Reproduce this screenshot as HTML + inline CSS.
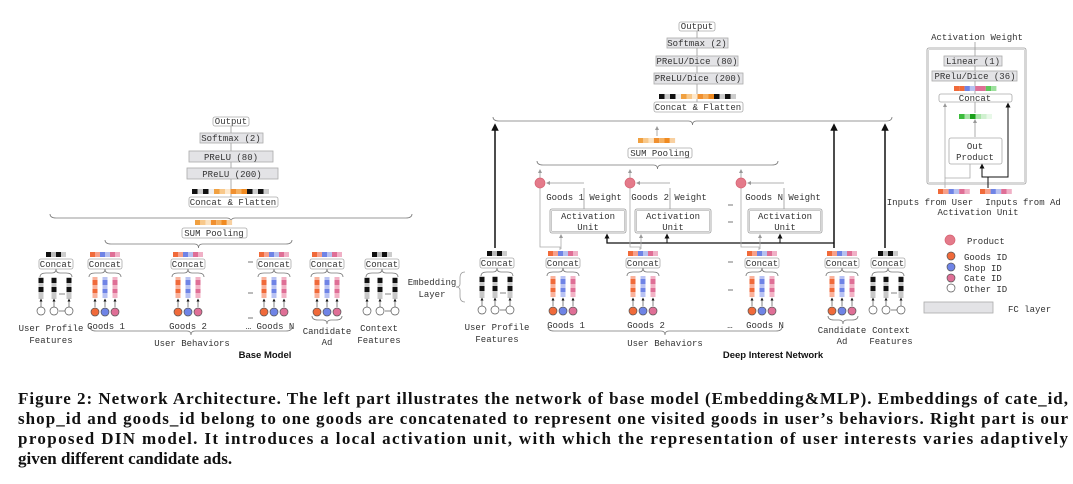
<!DOCTYPE html>
<html><head><meta charset="utf-8"><style>
html,body{margin:0;padding:0;background:#fff;width:1073px;height:484px;overflow:hidden}
svg{display:block}
.m{font-family:"Liberation Mono","DejaVu Sans Mono",monospace;font-size:9px;fill:#333}
.b{font-family:"Liberation Sans",sans-serif;font-size:9.5px;font-weight:bold;fill:#111}
.cap{font-family:"Liberation Serif",serif;font-size:17px;font-weight:bold;fill:#111}
</style></head><body>
<svg id="s" width="1073" height="484" viewBox="0 0 1073 484" xmlns="http://www.w3.org/2000/svg">
<defs>
<marker id="ag" markerWidth="5" markerHeight="5" refX="2.5" refY="2.5" orient="auto"><path d="M0,0L5,2.5L0,5z" fill="#999"/></marker>
<marker id="ak" markerWidth="5" markerHeight="5" refX="2.5" refY="2.5" orient="auto"><path d="M0,0L5,2.5L0,5z" fill="#111"/></marker>
</defs>
<g id="g"></g>
<text class="m" x="231" y="124" text-anchor="middle">Output</text>
<text class="m" x="231" y="141" text-anchor="middle">Softmax (2)</text>
<text class="m" x="231" y="160" text-anchor="middle">PReLU (80)</text>
<text class="m" x="232" y="177" text-anchor="middle">PReLU (200)</text>
<text class="m" x="233" y="205" text-anchor="middle">Concat &amp; Flatten</text>
<text class="m" x="214" y="236" text-anchor="middle">SUM Pooling</text>
<text class="m" x="56" y="267" text-anchor="middle">Concat</text>
<text class="m" x="105" y="267" text-anchor="middle">Concat</text>
<text class="m" x="188" y="267" text-anchor="middle">Concat</text>
<text class="m" x="274" y="267" text-anchor="middle">Concat</text>
<text class="m" x="327" y="267" text-anchor="middle">Concat</text>
<text class="m" x="382" y="267" text-anchor="middle">Concat</text>
<text class="m" x="51" y="331" text-anchor="middle">User Profile</text>
<text class="m" x="51" y="343" text-anchor="middle">Features</text>
<text class="m" x="106" y="329" text-anchor="middle">Goods 1</text>
<text class="m" x="188" y="329" text-anchor="middle">Goods 2</text>
<text class="m" x="270" y="329" text-anchor="middle">… Goods N</text>
<text class="m" x="327" y="334" text-anchor="middle">Candidate</text>
<text class="m" x="327" y="345" text-anchor="middle">Ad</text>
<text class="m" x="379" y="331" text-anchor="middle">Context</text>
<text class="m" x="379" y="343" text-anchor="middle">Features</text>
<text class="m" x="192" y="346" text-anchor="middle">User Behaviors</text>
<text class="b" x="265" y="358" text-anchor="middle">Base Model</text>
<text class="m" x="432" y="285" text-anchor="middle">Embedding</text>
<text class="m" x="432" y="297" text-anchor="middle">Layer</text>
<text class="m" x="697" y="29" text-anchor="middle">Output</text>
<text class="m" x="697" y="46" text-anchor="middle">Softmax (2)</text>
<text class="m" x="697" y="64" text-anchor="middle">PReLU/Dice (80)</text>
<text class="m" x="698" y="81" text-anchor="middle">PReLU/Dice (200)</text>
<text class="m" x="698" y="110" text-anchor="middle">Concat &amp; Flatten</text>
<text class="m" x="660" y="156" text-anchor="middle">SUM Pooling</text>
<text class="m" x="584" y="200" text-anchor="middle">Goods 1 Weight</text>
<text class="m" x="669" y="200" text-anchor="middle">Goods 2 Weight</text>
<text class="m" x="783" y="200" text-anchor="middle">Goods N Weight</text>
<text class="m" x="588" y="219" text-anchor="middle">Activation</text>
<text class="m" x="588" y="230" text-anchor="middle">Unit</text>
<text class="m" x="673" y="219" text-anchor="middle">Activation</text>
<text class="m" x="673" y="230" text-anchor="middle">Unit</text>
<text class="m" x="785" y="219" text-anchor="middle">Activation</text>
<text class="m" x="785" y="230" text-anchor="middle">Unit</text>
<text class="m" x="497" y="266" text-anchor="middle">Concat</text>
<text class="m" x="563" y="266" text-anchor="middle">Concat</text>
<text class="m" x="643" y="266" text-anchor="middle">Concat</text>
<text class="m" x="762" y="266" text-anchor="middle">Concat</text>
<text class="m" x="842" y="266" text-anchor="middle">Concat</text>
<text class="m" x="888" y="266" text-anchor="middle">Concat</text>
<text class="m" x="497" y="330" text-anchor="middle">User Profile</text>
<text class="m" x="497" y="342" text-anchor="middle">Features</text>
<text class="m" x="566" y="328" text-anchor="middle">Goods 1</text>
<text class="m" x="646" y="328" text-anchor="middle">Goods 2</text>
<text class="m" x="730" y="328" text-anchor="middle">…</text>
<text class="m" x="765" y="328" text-anchor="middle">Goods N</text>
<text class="m" x="842" y="333" text-anchor="middle">Candidate</text>
<text class="m" x="842" y="344" text-anchor="middle">Ad</text>
<text class="m" x="891" y="333" text-anchor="middle">Context</text>
<text class="m" x="891" y="344" text-anchor="middle">Features</text>
<text class="m" x="665" y="346" text-anchor="middle">User Behaviors</text>
<text class="b" x="773" y="358" text-anchor="middle">Deep Interest Network</text>
<text class="m" x="977" y="40" text-anchor="middle">Activation Weight</text>
<text class="m" x="973" y="64" text-anchor="middle">Linear (1)</text>
<text class="m" x="975" y="79" text-anchor="middle">PRelu/Dice (36)</text>
<text class="m" x="975" y="101" text-anchor="middle">Concat</text>
<text class="m" x="975" y="149" text-anchor="middle">Out</text>
<text class="m" x="975" y="160" text-anchor="middle">Product</text>
<text class="m" x="930" y="205" text-anchor="middle">Inputs from User</text>
<text class="m" x="1023" y="205" text-anchor="middle">Inputs from Ad</text>
<text class="m" x="978" y="215" text-anchor="middle">Activation Unit</text>
<text class="m" x="967" y="244">Product</text>
<text class="m" x="964" y="260">Goods ID</text>
<text class="m" x="964" y="271">Shop ID</text>
<text class="m" x="964" y="281">Cate ID</text>
<text class="m" x="964" y="292">Other ID</text>
<text class="m" x="1008" y="312">FC layer</text>
<text class="cap" x="18" y="404" textLength="1050" lengthAdjust="spacing">Figure 2: Network Architecture. The left part illustrates the network of base model (Embedding&amp;MLP). Embeddings of cate_id,</text>
<text class="cap" x="18" y="424" textLength="1050" lengthAdjust="spacing">shop_id and goods_id belong to one goods are concatenated to represent one visited goods in user’s behaviors. Right part is our</text>
<text class="cap" x="18" y="444" textLength="1050" lengthAdjust="spacing">proposed DIN model. It introduces a local activation unit, with which the representation of user interests varies adaptively</text>
<text class="cap" x="18" y="464">given different candidate ads.</text>
</svg>
<script>
var G=document.getElementById('g'),NS='http://www.w3.org/2000/svg';
function el(t,a){var e=document.createElementNS(NS,t);for(var k in a)e.setAttribute(k,a[k]);G.appendChild(e);return e;}
function R(x,y,w,h,f,s,rx){el('rect',{x:x,y:y,width:w,height:h,fill:f||'none',stroke:s||'none','stroke-width':0.8,rx:rx||0});}
function L(x1,y1,x2,y2,c,w,m){var a={x1:x1,y1:y1,x2:x2,y2:y2,stroke:c||'#999','stroke-width':w||0.8};if(m)a['marker-end']='url(#'+m+')';el('line',a);}
function P(d,c,w,m){var a={d:d,stroke:c||'#999','stroke-width':w||0.8,fill:'none'};if(m)a['marker-end']='url(#'+m+')';el('path',a);}
function C(x,y,r,f,s){el('circle',{cx:x,cy:y,r:r,fill:f,stroke:s||'#555','stroke-width':0.7});}
function fc(x1,y1,x2,y2){R(x1,y1,x2-x1,y2-y1,'#e3e3e6','#aaa');}
function lb(x1,y1,x2,y2){R(x1,y1,x2-x1,y2-y1,'#fff','#aaa',2);}
function brace(x1,x2,y,down){var m=(x1+x2)/2,d=down?-4:4;P('M'+x1+','+(y+d)+' Q'+x1+','+y+' '+(x1+6)+','+y+' L'+(m-4)+','+y+' Q'+m+','+y+' '+m+','+(y-d)+' Q'+m+','+y+' '+(m+4)+','+y+' L'+(x2-6)+','+y+' Q'+x2+','+y+' '+x2+','+(y+d),'#777',0.8);}
function bar(x,y,cols,w,h){for(var i=0;i<cols.length;i++)R(x+i*w,y,w,h,cols[i]);}
var OR=['#f0a040','#f8c88a','#fbe3c2','#f09030','#f5b060','#f08a20','#f8d0a0'];
var GC=['#f06a3a','#f7a08a','#6f84e6','#b7c1f0','#df6f96','#f0b0c6'];
var BK=['#111','#bbb','#111','#ccc'];
function goodsCol(cx,yb){
 bar(cx-15,yb,GC,5,5);
 lb(cx-17,yb+7,cx+17,yb+17);
 brace(cx-16,cx+16,yb+21,false);
 var cs=['#f06a3a','#6f84e6','#df6f96'],ls=['#f9b29c','#b9c3f3','#f2b3c6'];
 for(var i=0;i<3;i++){var x=cx-10+i*10;R(x-2.5,yb+25,5,21,ls[i]);R(x-2.5,yb+28,5,5,cs[i]);R(x-2.5,yb+37,5,4,cs[i]);
  L(x,yb+55,x,yb+48,'#333',0.6,'ak');C(x,yb+60,4,cs[i]);}
}
function otherCol(cx,yb){
 bar(cx-10,yb,BK,5,5);
 lb(cx-17,yb+7,cx+17,yb+17);
 brace(cx-16,cx+16,yb+21,false);
 var xs=[cx-15,cx-2,cx+13];
 for(var i=0;i<3;i++){var x=xs[i];R(x-2.5,yb+25,5,22,'#c8c8c8');R(x-2.5,yb+26,5,5,'#111');R(x-2.5,yb+35,5,5,'#111');
  L(x,yb+55,x,yb+48,'#333',0.6,'ak');C(x,yb+59,4,'#fff');}
 L(cx+3,yb+42,cx+9,yb+42,'#333',0.6);L(cx+3,yb+59,cx+9,yb+59,'#333',0.6);
}
L(231,125,231,198,'#999');
lb(213,117,249,126);fc(200,133,263,143);fc(189,151,273,162);fc(187,168,278,179);
bar(192,189,['#111','#ccc','#111','#eee','#f0a040','#f8c88a','#fde8cc','#f09030','#f5b060','#f08a20','#111','#ccc','#111','#ccc'],5.5,5);
lb(189,197,278,207);
brace(50,412,218,true);
bar(195,220,OR,5.3,5);
lb(182,228,247,238);
brace(105,292,244,true);
otherCol(56,252);goodsCol(105,252);goodsCol(188,252);goodsCol(274,252);goodsCol(327,252);otherCol(382,252);
brace(90,292,331,true);brace(312,342,320,true);
P('M465,272 Q460,272 460,278 L460,284 Q460,287 456,287 Q460,287 460,290 L460,296 Q460,302 465,302','#999',0.8);
L(697,30,697,103,'#999');
lb(679,22,715,31);fc(667,38,728,48);fc(656,56,738,66);fc(654,73,743,84);
bar(659,94,['#111','#ccc','#111','#eee','#f0a040','#f8c88a','#fde8cc','#f09030','#f5b060','#f08a20','#111','#ccc','#111','#ccc'],5.5,5);
lb(654,102,743,112);
brace(493,892,121,true);
L(657,136,657,128,'#999',0.8,'ag');
bar(638,138,OR,5.3,5);
lb(628,148,692,158);
brace(537,778,165,true);
otherCol(497,251);goodsCol(563,251);goodsCol(643,251);goodsCol(762,251);goodsCol(842,251);otherCol(888,251);
brace(548,782,331,true);brace(828,858,320,true);
L(495,248,495,127,'#111',1.5,'ak');L(834,248,834,127,'#111',1.5,'ak');L(885,248,885,127,'#111',1.5,'ak');
var AU=[[550,626,540,584,563],[635,711,630,670,643],[748,822,741,784,762]];
P('M607,236 L607,243 L834,243','#111',1.3);
AU.forEach(function(a){
 R(a[0],209,a[1]-a[0],24,'#fff','#999',2);R(a[0]+1.5,210.5,a[1]-a[0]-3,21,'none','#bbb',1);
 L(a[3],209,a[3],188,'#999');P('M'+a[3]+',183 L'+(a[2]+8)+',183','#999',0.8,'ag');
 P('M'+(a[4]-3)+',250 L'+(a[4]-3)+',247 L'+a[2]+',247 L'+a[2]+',188','#aaa',0.8);
 L(a[4]-2,249,a[4]-2,236,'#aaa',0.8,'ag');
 L(a[2],178,a[2],171,'#999',0.8,'ag');
 C(a[2],183,5,'#e47a8a','#d56070');
});
L(667,243,667,236,'#111',1,'ak');L(780,243,780,236,'#111',1,'ak');L(607,243,607,236,'#111',1,'ak');
[[728,205],[728,222],[728,262],[728,290]].forEach(function(p){L(p[0],p[1],p[0]+5,p[1],'#555',0.8);});
[[248,262],[248,293],[248,318]].forEach(function(p){L(p[0],p[1],p[0]+5,p[1],'#555',0.8);});
R(927,48,99,136,'#fff','#999',2);R(928.5,49.5,96,133,'none','#ccc',0.8);
L(975,113,975,42,'#999');
fc(944,56,1002,66);fc(932,71,1017,81);
bar(954,86,['#f06a3a','#f06a3a','#6f84e6','#b7c1f0','#df6f96','#df6f96','#5cc85c','#9de09d'],5.3,5);
lb(939,94,1012,102);
bar(959,114,['#3cbc3c','#a8e4a8','#1aa01a','#a8e4a8','#d0f0d0','#e8f8e8'],5.5,5);
L(975,137,975,121,'#999',0.8,'ag');
lb(949,138,1002,164);
P('M945,188 L945,178 L970,178 L970,164','#aaa',0.8);L(945,178,945,105,'#aaa',0.8,'ag');
P('M988,188 L988,177 L982,177 L982,166','#111',1,'ak');P('M988,177 L1008,177 L1008,105','#111',1,'ak');
bar(938,189,['#f06a3a','#f7a08a','#6f84e6','#b7c1f0','#df6f96','#f0b0c6'],5.3,5);
bar(980,189,['#f06a3a','#f7a08a','#6f84e6','#b7c1f0','#df6f96','#f0b0c6'],5.3,5);
C(950,240,5,'#e47a8a','#d56070');
C(951,256,4,'#f06a3a');C(951,267,4,'#6f84e6');C(951,278,4,'#df6f96');C(951,288,4,'#fff');
fc(924,302,993,313);
</script>
</body></html>
